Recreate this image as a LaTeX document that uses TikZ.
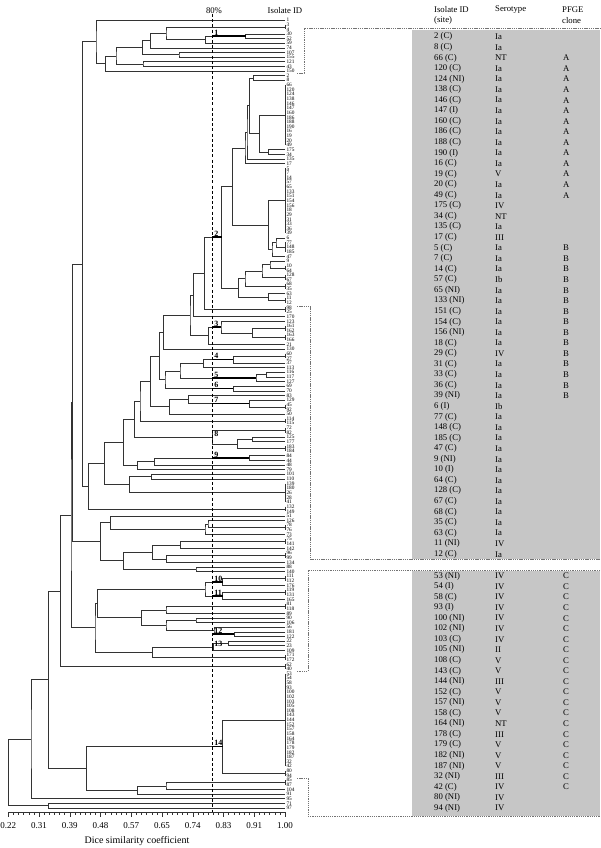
\documentclass[tikz,border=0pt]{standalone}
\usepackage{fontspec}
\setmainfont{Liberation Serif}
\usetikzlibrary{calc}
% node: name, x, child A, child B
\newcommand\nd[4]{\path let \p1=(#3),\p2=(#4) in coordinate (#1) at (#2,{(\y1+\y2)/2});\draw[tree] (#3) -| (#1) |- (#4);}
% group of identical leaves
\newcommand\grp[3]{\path let \p1=(L#2),\p2=(L#3) in coordinate (#1) at (285,{(\y1+\y2)/2});\draw[tree] (L#2) -- (L#3);}
% cluster marker
\newcommand\clm[2]{\path let \p1=(#2) in coordinate (K#1) at (212.3,\y1);\draw[thickseg] (K#1) -- (#2);\path let \p1=(#2) in node[clnum] (M#1) at (214.2,{\y1+0.6}) {#1};}
\begin{document}
\begin{tikzpicture}[x=1pt,y=1pt,
  tree/.style={draw=black!80,line width=0.6pt},
  thickseg/.style={draw=black,line width=1.5pt},
  leaf/.style={anchor=west,inner sep=0pt,font=\fontsize{5.3}{5.3}\selectfont},
  cell/.style={anchor=west,inner sep=0pt,font=\fontsize{8.7}{9}\selectfont},
  hdr/.style={anchor=west,inner sep=0pt,font=\fontsize{8.7}{9}\selectfont},
  clnum/.style={anchor=south west,inner sep=0pt,font=\fontsize{8}{8}\selectfont\bfseries},
  brk/.style={draw=black!55,line width=0.5pt,dash pattern=on 1.3pt off 0.9pt},
  dash80/.style={draw=black,line width=0.8pt,dash pattern=on 3pt off 2.2pt},
  axl/.style={draw=black!80,line width=0.6pt}
]
\useasboundingbox (0,0) rectangle (600,-848);
% gray boxes
\fill[gray!45] (411.5,-30) rectangle (600,-558.5);
\fill[gray!45] (411.5,-571) rectangle (600,-815.5);
% leaves
\foreach \lab [count=\i] in {1,3,4,30,52,59,74,107,155,121,43,150,
 2,8,66,120,124,138,146,147,160,186,188,190,16,19,20,49,175,34,135,17,5,7,14,57,65,133,151,154,156,18,29,31,33,36,39,6,77,148,185,47,9,10,64,128,67,68,35,63,11,12,
 98,25,170,123,161,162,163,166,21,130,60,27,37,113,116,117,127,69,70,83,129,45,92,50,114,115,72,82,125,177,183,184,84,44,48,79,101,110,139,180,26,28,41,132,149,51,126,78,76,73,75,141,142,96,99,134,88,140,111,112,176,119,131,165,81,118,89,90,106,56,181,122,22,23,109,171,172,62,40,
 53,54,58,93,100,102,103,105,108,143,144,152,157,158,164,178,179,182,187,32,42,80,94,85,87,104,91,95,71,97}{
 \coordinate (L\i) at (285,{-20-(\i-1)*4.635});
 \node[leaf] (T\i) at (286.3,{-20-(\i-1)*4.635}) {\lab};
}
% top cluster
\grp{p34}{2}{3}
\nd{a2}{245.7}{L4}{L5}
\nd{a3}{205.7}{a2}{L6}
\nd{a4}{166}{p34}{a3}
\nd{a5}{150.7}{a4}{L7}
\nd{a6}{179}{L8}{L9}
\nd{a7}{142.7}{a5}{a6}
\nd{a8}{143}{L10}{L11}
\nd{a9}{116}{a7}{a8}
\nd{a10}{105.3}{a9}{L12}
\nd{a11}{96}{L1}{a10}
% box 1 clusters
\nd{b1}{253.3}{L13}{L14}
\grp{gA}{15}{28}
\nd{b2}{268.7}{L29}{L30}
\nd{b3}{259.7}{gA}{b2}
\nd{b4}{249.3}{b1}{b3}
\nd{b5}{247}{b4}{L31}
\nd{b6}{245}{b5}{L32}
\grp{gB}{33}{47}
\grp{g3}{49}{51}
\nd{b7}{276}{L48}{g3}
\nd{b8}{272}{b7}{L52}
\nd{b9}{268.3}{gB}{b8}
\nd{b10}{232.3}{b6}{b9}
\grp{p54}{54}{55}
\nd{b11}{270}{L53}{p54}
\grp{p56}{56}{57}
\nd{b12}{262}{b11}{p56}
\grp{p58}{58}{59}
\nd{b13}{245}{b12}{p58}
\grp{p61}{61}{62}
\nd{b14}{268.3}{L60}{p61}
\nd{b15}{238.3}{b13}{b14}
\nd{b16}{221.7}{b10}{b15}
\grp{p63}{63}{64}
\nd{m1}{204.3}{b16}{p63}
\nd{m2}{193.3}{m1}{L65}
\grp{p67}{67}{68}
\grp{p69}{69}{70}
\nd{c3a}{252.7}{p67}{p69}
\nd{c3b}{221}{L66}{c3a}
\nd{c3}{208.3}{c3b}{L71}
\nd{m3}{190}{m2}{c3}
\nd{m4}{163.3}{m3}{L72}
\grp{p73}{73}{74}
\nd{c4a}{233.3}{p73}{L75}
\nd{c4}{203.3}{c4a}{L76}
\nd{c5a}{266.7}{L77}{L78}
\nd{c5}{256}{c5a}{L79}
\nd{m5}{180}{c4}{c5}
\nd{c6}{233.3}{L80}{L81}
\nd{m6}{165}{m5}{c6}
\nd{m7}{159.3}{m4}{m6}
\grp{p84}{84}{85}
\nd{c7a}{249.3}{L83}{p84}
\nd{c7b}{188.3}{L82}{c7a}
\nd{c7c}{169.3}{c7b}{L86}
\nd{m8}{150.7}{m7}{c7c}
\grp{p87}{87}{88}
\nd{m9}{140}{m8}{p87}
\grp{p89}{89}{90}
\nd{c8a}{252.7}{L91}{L92}
\grp{p93}{93}{94}
\nd{c8b}{237.3}{c8a}{p93}
\nd{c8}{212.3}{p89}{c8b}
\nd{m10}{134.3}{m9}{c8}
\nd{c9a}{249.3}{L95}{L96}
\nd{c9b}{154.3}{c9a}{L97}
\nd{c9}{137.7}{c9b}{L98}
\nd{m11}{123.3}{m10}{c9}
\nd{m12}{151.7}{L99}{L100}
\grp{g5}{101}{105}
\nd{m13}{129.3}{m12}{g5}
\nd{m14}{104.3}{m11}{m13}
\grp{p106}{106}{107}
\nd{m15}{88.3}{m14}{p106}
\nd{R1}{82.3}{a11}{m15}
% lower middle
\grp{p110}{110}{111}
\nd{n1}{208}{L109}{p110}
\nd{n2}{205}{n1}{L112}
\nd{n3}{110.3}{L108}{n2}
\grp{p113}{113}{114}
\nd{n4}{180.7}{p113}{L115}
\grp{p116}{116}{117}
\nd{n5}{166.7}{p116}{L118}
\nd{n6}{152.7}{n4}{n5}
\nd{n7}{196}{L119}{L120}
\nd{n8}{123.3}{n6}{n7}
\nd{n9}{100.7}{n3}{n8}
\nd{Bn}{72.7}{R1}{n9}
\grp{p121}{121}{122}
\nd{c10}{222.7}{p121}{L123}
\grp{p124}{124}{125}
\nd{c11}{222.7}{p124}{L126}
\nd{n10}{205}{c10}{c11}
\grp{p127}{127}{128}
\nd{n11}{166}{p127}{L129}
\nd{n12}{196}{L130}{L131}
\nd{c12}{234.3}{L133}{L134}
\nd{c12b}{214}{L132}{c12}
\nd{n13}{166}{n12}{c12b}
\nd{n14}{141.7}{n11}{n13}
\nd{n15}{97.7}{n10}{n14}
\nd{c13a}{228.3}{L135}{L136}
\nd{c13}{213.3}{c13a}{L137}
\grp{p138}{138}{139}
\nd{n16}{152.7}{c13}{p138}
\nd{n17}{95}{n15}{n16}
\nd{Cn}{71}{Bn}{n17}
\grp{p140}{140}{141}
\nd{Dn}{60.3}{Cn}{p140}
\grp{gC}{142}{162}
\grp{p163}{163}{164}
\nd{N14}{222.7}{gC}{p163}
\grp{p165}{165}{166}
\nd{n18}{166}{p165}{L167}
\nd{n19}{137.7}{n18}{L168}
\nd{n20}{86.7}{N14}{n19}
\nd{En}{48.3}{Dn}{n20}
\nd{Fn}{31}{En}{L169}
\nd{n21}{48.3}{L170}{L171}
\nd{Gn}{8.3}{Fn}{n21}
% cluster markers
\clm{1}{a2}
\clm{2}{b16}
\clm{3}{c3b}
\clm{4}{c4a}
\clm{5}{c5}
\clm{6}{c6}
\clm{7}{c7a}
\clm{8}{c8}
\clm{9}{c9a}
\clm{10}{c10}
\clm{11}{c11}
\clm{12}{c12}
\clm{13}{c13}
\clm{14}{N14}
% 80% line
\coordinate (d80t) at (212.3,-14);
\coordinate (d80b) at (212.3,-812);
\draw[dash80] (d80t) -- (d80b);
\node[hdr,anchor=center] (h80) at (214,-10.5) {80\%};
\node[hdr,anchor=center] (hiso) at (285,-10.5) {Isolate ID};
% axis
\coordinate (ax0) at (8.3,-812);
\coordinate (ax1) at (285,-812);
\draw[axl] (ax0) -- (ax1);
\foreach \k in {0,...,54} {\draw[axl] ({8.3+\k*30.756/6},-812) -- ++(0,-3);}
\foreach \v [count=\k from 0] in {0.22,0.31,0.39,0.48,0.57,0.65,0.74,0.83,0.91,1.00} {
  \draw[axl] ({8.3+\k*30.756},-812) -- ++(0,-5);
  \node[inner sep=0pt,font=\fontsize{9}{9}\selectfont] (tk\k) at ({8.3+\k*30.756},-826) {\v};
}
\node[inner sep=0pt,font=\fontsize{10}{10}\selectfont] (axt) at (137,-841) {Dice similarity coefficient};
% brackets
\coordinate (q1) at (297,-73.3); \coordinate (q2) at (304,-73.3); \coordinate (q3) at (304,-28.3); \coordinate (q4) at (600,-28.3);
\draw[brk] (q1) -- (q2) -- (q3) -- (q4);
\coordinate (q5) at (297,-306); \coordinate (q6) at (310,-306); \coordinate (q7) at (310,-559); \coordinate (q8) at (600,-559);
\draw[brk] (q5) -- (q6) -- (q7) -- (q8);
\coordinate (q9) at (600,-570); \coordinate (q10) at (308,-570); \coordinate (q11) at (308,-671); \coordinate (q12) at (297,-671);
\draw[brk] (q9) -- (q10) -- (q11) -- (q12);
\coordinate (q13) at (297,-778.5); \coordinate (q14) at (308,-778.5); \coordinate (q15) at (308,-816); \coordinate (q16) at (600,-816);
\draw[brk] (q13) -- (q14) -- (q15) -- (q16);
% headers
\node[hdr] (h1) at (434,-9.5) {Isolate ID};
\node[hdr] (h2) at (434,-20.5) {(site)};
\node[hdr] (h3) at (495,-9.5) {Serotype};
\node[hdr] (h4) at (562,-9.5) {PFGE};
\node[hdr] (h5) at (562,-20.5) {clone};
% table rows box 1
\foreach \a/\b/\c [count=\i] in {2 (C)/Ia/,8 (C)/Ia/,66 (C)/NT/A,120 (C)/Ia/A,124 (NI)/Ia/A,138 (C)/Ia/A,146 (C)/Ia/A,147 (I)/Ia/A,160 (C)/Ia/A,186 (C)/Ia/A,188 (C)/Ia/A,190 (I)/Ia/A,16 (C)/Ia/A,19 (C)/V/A,20 (C)/Ia/A,49 (C)/Ia/A,175 (C)/IV/,34 (C)/NT/,135 (C)/Ia/,17 (C)/III/,5 (C)/Ia/B,7 (C)/Ia/B,14 (C)/Ia/B,57 (C)/Ib/B,65 (NI)/Ia/B,133 (NI)/Ia/B,151 (C)/Ia/B,154 (C)/Ia/B,156 (NI)/Ia/B,18 (C)/Ia/B,29 (C)/IV/B,31 (C)/Ia/B,33 (C)/Ia/B,36 (C)/Ia/B,39 (NI)/Ia/B,6 (I)/Ib/,77 (C)/Ia/,148 (C)/Ia/,185 (C)/Ia/,47 (C)/Ia/,9 (NI)/Ia/,10 (I)/Ia/,64 (C)/Ia/,128 (C)/Ia/,67 (C)/Ia/,68 (C)/Ia/,35 (C)/Ia/,63 (C)/Ia/,11 (NI)/IV/,12 (C)/Ia/}{
  \node[cell] (ra\i) at (434,{-36.8-(\i-1)*10.56}) {\a};
  \node[cell] (rb\i) at (495,{-36.8-(\i-1)*10.56}) {\b};
  \node[cell] (rc\i) at (563,{-36.8-(\i-1)*10.56}) {\c};
}
% table rows box 2
\foreach \a/\b/\c [count=\i] in {53 (NI)/IV/C,54 (I)/IV/C,58 (C)/IV/C,93 (I)/IV/C,100 (NI)/IV/C,102 (NI)/IV/C,103 (C)/IV/C,105 (NI)/II/C,108 (C)/V/C,143 (C)/V/C,144 (NI)/III/C,152 (C)/V/C,157 (NI)/V/C,158 (C)/V/C,164 (NI)/NT/C,178 (C)/III/C,179 (C)/V/C,182 (NI)/V/C,187 (NI)/V/C,32 (NI)/III/C,42 (C)/IV/C,80 (NI)/IV/,94 (NI)/IV/}{
  \node[cell] (sa\i) at (434,{-576-(\i-1)*10.55}) {\a};
  \node[cell] (sb\i) at (495,{-576-(\i-1)*10.55}) {\b};
  \node[cell] (sc\i) at (563,{-576-(\i-1)*10.55}) {\c};
}
\end{tikzpicture}
\end{document}
